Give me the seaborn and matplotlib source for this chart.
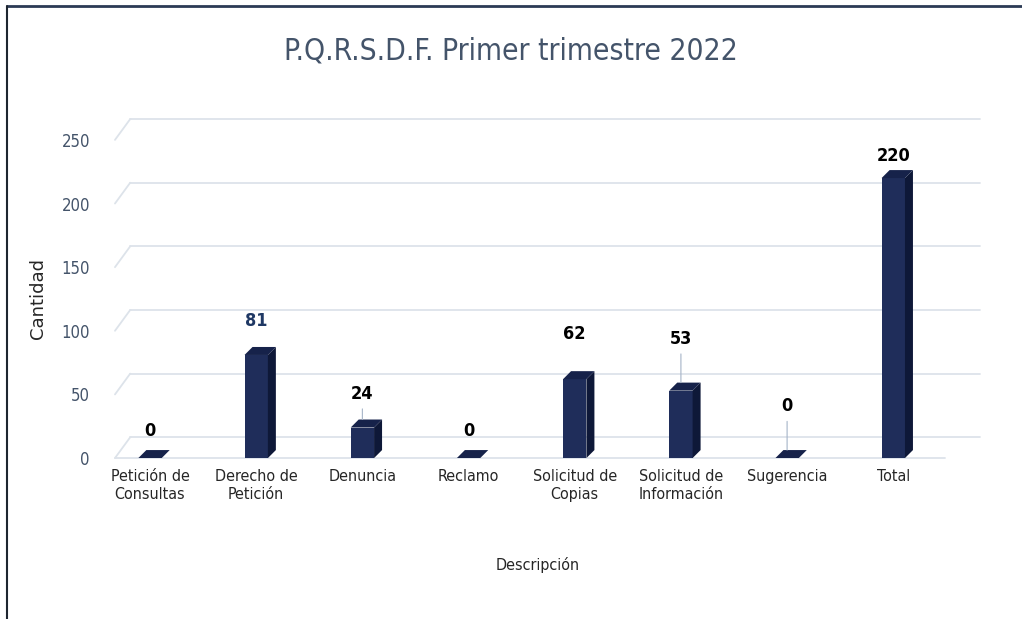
import matplotlib
matplotlib.use("Agg")
import matplotlib.pyplot as plt
from matplotlib.patches import Polygon
from matplotlib.lines import Line2D
import seaborn as sns
import pandas as pd

categorias = ['Petición de\nConsultas', 'Derecho de\nPetición', 'Denuncia', 'Reclamo',
              'Solicitud de\nCopias', 'Solicitud de\nInformación', 'Sugerencia', 'Total']
cantidades = [0, 81, 24, 0, 62, 53, 0, 220]
# extra lift of each data label (points) and whether it has a leader line
label_lift = [1, 6, 6, 1, 14, 19, 19, -2]
leader = [False, False, True, False, False, True, True, False]

df = pd.DataFrame({'Descripción': categorias, 'Cantidad': cantidades})

sns.set_theme(style='white')
plt.rcParams['font.family'] = ['DejaVu Sans']
plt.rcParams['font.stretch'] = 'condensed'

fig = plt.figure(figsize=(10.22, 6.19), dpi=100)
ax = fig.add_axes([0.1125, 0.26, 0.827, 0.514])

navy = '#1f2d5a'
sns.barplot(data=df, x='Descripción', y='Cantidad', color=navy, width=0.22,
            saturation=1, linewidth=0, ax=ax, zorder=3)

ax.set_xlim(-0.33, 7.63)
ax.set_ylim(0, 250)
ax.set_yticks([0, 50, 100, 150, 200, 250])

# fake 3D depth for each bar
fig.canvas.draw()
px_x = ax.transData.transform((1, 0))[0] - ax.transData.transform((0, 0))[0]
px_y = ax.transData.transform((0, 1))[1] - ax.transData.transform((0, 0))[1]
depth = 8
dx, dy = depth / px_x, depth / px_y

for p in ax.patches[:len(cantidades)]:
    x0 = p.get_x()
    x1 = x0 + p.get_width()
    h = p.get_height()
    side = Polygon([(x1, 0), (x1, h), (x1 + dx, h + dy), (x1 + dx, dy)],
                   closed=True, facecolor='#0e1838', edgecolor='none', zorder=3)
    top = Polygon([(x0, h), (x1, h), (x1 + dx, h + dy), (x0 + dx, h + dy)],
                  closed=True, facecolor='#16224a', edgecolor='none', zorder=3)
    ax.add_patch(side)
    ax.add_patch(top)

# data labels
for i, (v, lift, ld) in enumerate(zip(cantidades, label_lift, leader)):
    color = '#1f3864' if v == 81 else 'black'
    props = dict(arrowstyle='-', color='#a6b4c8', lw=0.8, shrinkA=2, shrinkB=0) if ld else None
    ax.annotate(str(v), xy=(i, v + dy), xytext=(0, 6 + lift), textcoords='offset points',
                ha='center', va='bottom', fontsize=13, fontweight='bold', color=color,
                arrowprops=props, zorder=5)

# grid on back wall, plus the floor edges
back = dy * 2.6
for t in ax.get_yticks():
    ax.axhline(t + back, color='#dde3ea', lw=1.3, zorder=1, xmin=0.018, xmax=1.024,
               clip_on=False)
ax.axhline(0, color='#dde3ea', lw=1.3, zorder=1, xmax=0.982, clip_on=False)
for t in ax.get_yticks():
    ax.plot([-0.33, -0.33 + 0.018 * 7.96], [t, t + back], color='#dde3ea', lw=1.3,
            zorder=1, clip_on=False)

for s in ax.spines.values():
    s.set_visible(False)
ax.tick_params(axis='y', length=0, labelsize=12, labelcolor='#44546a', pad=18)
ax.tick_params(axis='x', length=0, labelsize=11.5, labelcolor='#262626', pad=8)

ax.set_xlabel('Descripción', fontsize=11.5, color='#262626', labelpad=40)
ax.set_ylabel('Cantidad', fontsize=13, color='#262626', fontstretch='normal')
ax.yaxis.set_label_coords(-0.08, 0.5)

fig.text(0.5, 0.917, 'P.Q.R.S.D.F. Primer trimestre 2022', ha='center', va='center',
         fontsize=21.5, color='#44546a')

# outer frame like the screenshot
fig.add_artist(Line2D([0.007, 1], [0.99, 0.99], color='#2b3a55', lw=2))
fig.add_artist(Line2D([0.007, 0.007], [0, 0.99], color='#1e2630', lw=1.5))

fig.savefig('out.png', dpi=100, facecolor='white')
